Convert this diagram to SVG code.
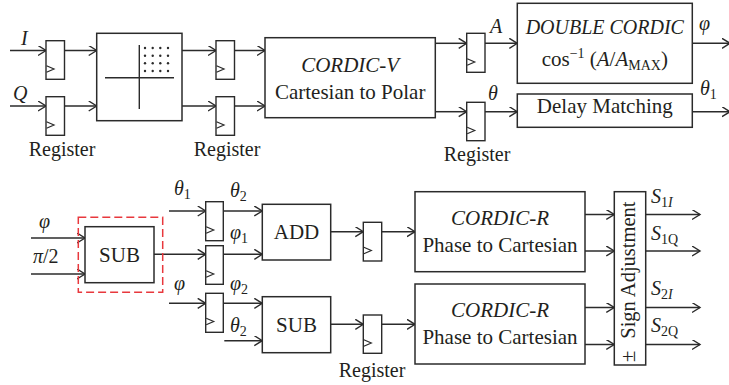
<svg xmlns="http://www.w3.org/2000/svg" width="729" height="385" viewBox="0 0 729 385" font-family="'Liberation Serif', 'DejaVu Serif', 'Times New Roman', serif">
<defs>
<marker id="arr" markerWidth="10" markerHeight="12" refX="8.5" refY="5" orient="auto" markerUnits="userSpaceOnUse">
<path d="M0.5,0 L8.5,5 L0.5,10" fill="none" stroke="#2b2b2b" stroke-width="1.4"/>
</marker>
<g id="clk"><path d="M0,-3.2 L7.5,0 L0,3.2" fill="none" stroke="#2b2b2b" stroke-width="1.2"/></g>
</defs>
<style>
.b{fill:#fff;stroke:#2b2b2b;stroke-width:1.5}
.r{fill:#fff;stroke:#2b2b2b;stroke-width:1.4}
.w{fill:none;stroke:#2b2b2b;stroke-width:1.5;marker-end:url(#arr)}
text{fill:#231f20;font-size:20px}
.c{text-anchor:middle;font-size:21px}
.i{font-style:italic}
.s{font-size:14px}
.red{fill:none;stroke:#e8383d;stroke-width:1.5;stroke-dasharray:8,4}
</style>
<rect width="729" height="385" fill="#fff"/>

<g id="connectors">
<path class="w" d="M10,50.5H46"/>
<path class="w" d="M10,106H46"/>
<path class="w" d="M64.5,50.5H96.7"/>
<path class="w" d="M64.5,106H96.7"/>
<path class="w" d="M182,50.5H216"/>
<path class="w" d="M182,106H216"/>
<path class="w" d="M234.5,50.5H265"/>
<path class="w" d="M234.5,106H265"/>
<path class="w" d="M435.3,43.3H466.7"/>
<path class="w" d="M435.3,111.7H466.7"/>
<path class="w" d="M485,43.3H517.3"/>
<path class="w" d="M485,111.7H517.3"/>
<path class="w" d="M692.3,43.3H730"/>
<path class="w" d="M692.3,111.7H730"/>

<path class="w" d="M31,238H85"/>
<path class="w" d="M31,274H85"/>
<path class="w" d="M154,254.3H205.7"/>
<path class="w" d="M169,211H205.7"/>
<path class="w" d="M169,303.3H205.7"/>
<path class="w" d="M223.3,211H262.3"/>
<path class="w" d="M223.3,254.3H262.3"/>
<path class="w" d="M223.3,303.3H262.3"/>
<path class="w" d="M224.3,340.7H262.3"/>
<path class="w" d="M330.7,231.7H363.3"/>
<path class="w" d="M381.7,231.7H415"/>
<path class="w" d="M330.7,324.3H363.3"/>
<path class="w" d="M381.7,324.3H415"/>
<path class="w" d="M585,214.5H614.3"/>
<path class="w" d="M585,251H614.3"/>
<path class="w" d="M585,307.5H614.3"/>
<path class="w" d="M585,344.5H614.3"/>
<path class="w" d="M645.7,214.5H700"/>
<path class="w" d="M645.7,251H700"/>
<path class="w" d="M645.7,307.5H700"/>
<path class="w" d="M645.7,344.5H700"/>
</g>

<g id="labels">
<text class="i" x="21" y="45">I</text>
<text class="i" x="13" y="100">Q</text>
<text class="i" x="490" y="33">A</text>
<text class="i" x="488" y="100">θ</text>
<text class="i" x="699" y="30">φ</text>
<text x="700" y="95"><tspan class="i">θ</tspan><tspan class="s" dy="4">1</tspan></text>
<text x="62" y="156" text-anchor="middle">Register</text>
<text x="227" y="156" text-anchor="middle">Register</text>
<text x="477" y="161" text-anchor="middle">Register</text>
<text x="372" y="377" text-anchor="middle">Register</text>

<text class="i" x="39" y="228">φ</text>
<text x="33" y="263"><tspan class="i">π</tspan>/2</text>
<text x="174" y="195"><tspan class="i">θ</tspan><tspan class="s" dy="4">1</tspan></text>
<text class="i" x="174" y="290">φ</text>
<text x="230" y="197"><tspan class="i">θ</tspan><tspan class="s" dy="4">2</tspan></text>
<text x="230" y="239"><tspan class="i">φ</tspan><tspan class="s" dy="4">1</tspan></text>
<text x="230" y="290"><tspan class="i">φ</tspan><tspan class="s" dy="4">2</tspan></text>
<text x="230" y="332"><tspan class="i">θ</tspan><tspan class="s" dy="4">2</tspan></text>

<text x="651" y="203"><tspan class="i">S</tspan><tspan class="s" dy="4">1</tspan><tspan class="s i">I</tspan></text>
<text x="651" y="240"><tspan class="i">S</tspan><tspan class="s" dy="4">1Q</tspan></text>
<text x="651" y="295"><tspan class="i">S</tspan><tspan class="s" dy="4">2</tspan><tspan class="s i">I</tspan></text>
<text x="651" y="332"><tspan class="i">S</tspan><tspan class="s" dy="4">2Q</tspan></text>
</g>

<g id="reg1a"><rect class="r" x="46" y="40.7" width="18.5" height="38.6"/><use href="#clk" x="46.5" y="69"/></g>
<g id="reg1b"><rect class="r" x="46" y="96.7" width="18.5" height="38.6"/><use href="#clk" x="46.5" y="125"/></g>

<g id="constellation">
<rect class="b" x="96.7" y="33.3" width="85.3" height="87.4"/>
<path d="M139.3,45V109M105,77.7H174" stroke="#2b2b2b" stroke-width="1.4" fill="none"/>
<g fill="#2b2b2b">
<circle cx="145" cy="48" r="1.2"/><circle cx="152.7" cy="48" r="1.2"/><circle cx="160.3" cy="48" r="1.2"/><circle cx="168" cy="48" r="1.2"/>
<circle cx="145" cy="55.7" r="1.2"/><circle cx="152.7" cy="55.7" r="1.2"/><circle cx="160.3" cy="55.7" r="1.2"/><circle cx="168" cy="55.7" r="1.2"/>
<circle cx="145" cy="63.3" r="1.2"/><circle cx="152.7" cy="63.3" r="1.2"/><circle cx="160.3" cy="63.3" r="1.2"/><circle cx="168" cy="63.3" r="1.2"/>
<circle cx="145" cy="71" r="1.2"/><circle cx="152.7" cy="71" r="1.2"/><circle cx="160.3" cy="71" r="1.2"/><circle cx="168" cy="71" r="1.2"/>
</g>
</g>

<g id="reg2a"><rect class="r" x="216" y="40.7" width="18.5" height="38.6"/><use href="#clk" x="216.5" y="69"/></g>
<g id="reg2b"><rect class="r" x="216" y="96.7" width="18.5" height="38.6"/><use href="#clk" x="216.5" y="125"/></g>

<g id="cordicV">
<rect class="b" x="265" y="37.7" width="170.3" height="80"/>
<text class="c i" x="350.2" y="72">CORDIC-V</text>
<text class="c" x="350.2" y="98.5">Cartesian to Polar</text>
</g>

<g id="reg3a"><rect class="r" x="466.7" y="33.3" width="18.3" height="39"/><use href="#clk" x="467.2" y="62"/></g>
<g id="reg3b"><rect class="r" x="466.7" y="102.3" width="18.3" height="38.4"/><use href="#clk" x="467.2" y="130.5"/></g>

<g id="doubleCordic">
<rect class="b" x="517.3" y="3.3" width="175" height="80"/>
<text class="i" x="604.8" y="34" text-anchor="middle" style="font-size:20px">DOUBLE CORDIC</text>
<text x="604.8" y="66" text-anchor="middle" style="font-size:21px">cos<tspan class="s" dy="-8">−1</tspan><tspan dy="8"> (</tspan><tspan class="i">A</tspan>/<tspan class="i">A</tspan><tspan class="s" dy="4">MAX</tspan><tspan dy="-4">)</tspan></text>
</g>

<g id="delay">
<rect class="b" x="517.3" y="94" width="175" height="33.3"/>
<text class="c" x="604.8" y="113">Delay Matching</text>
</g>

<g id="subHighlight">
<rect class="red" x="78.3" y="217.3" width="84.4" height="75"/>
</g>
<g id="sub1">
<rect class="b" x="85" y="226.7" width="69" height="56"/>
<text class="c" x="119.5" y="262">SUB</text>
</g>

<g id="reg4a"><rect class="r" x="205.7" y="201.7" width="17.6" height="39"/><use href="#clk" x="206.2" y="230"/></g>
<g id="reg4b"><rect class="r" x="205.7" y="245.7" width="17.6" height="38.6"/><use href="#clk" x="206.2" y="274"/></g>
<g id="reg4c"><rect class="r" x="205.7" y="293.3" width="17.6" height="39"/><use href="#clk" x="206.2" y="321.5"/></g>

<g id="add">
<rect class="b" x="262.3" y="204.3" width="68.4" height="55.7"/>
<text class="c" x="296.5" y="239">ADD</text>
</g>
<g id="sub2">
<rect class="b" x="262.3" y="296.7" width="68.4" height="56"/>
<text class="c" x="296.5" y="332">SUB</text>
</g>

<g id="reg5a"><rect class="r" x="363.3" y="222.3" width="18.4" height="38.7"/><use href="#clk" x="363.8" y="250.5"/></g>
<g id="reg5b"><rect class="r" x="363.3" y="315" width="18.4" height="38.3"/><use href="#clk" x="363.8" y="343"/></g>

<g id="cordicR1">
<rect class="b" x="415" y="191.7" width="170" height="80"/>
<text class="c i" x="500" y="225">CORDIC-R</text>
<text class="c" x="500" y="252">Phase to Cartesian</text>
</g>
<g id="cordicR2">
<rect class="b" x="415" y="284" width="170" height="80"/>
<text class="c i" x="500" y="317">CORDIC-R</text>
<text class="c" x="500" y="344">Phase to Cartesian</text>
</g>

<g id="signAdj">
<rect class="b" x="614.3" y="191.7" width="31.4" height="173.3"/>
<text transform="translate(635,362) rotate(-90)" style="font-size:20.5px">±<tspan dx="12">Sign Adjustment</tspan></text>
</g>
</svg>
